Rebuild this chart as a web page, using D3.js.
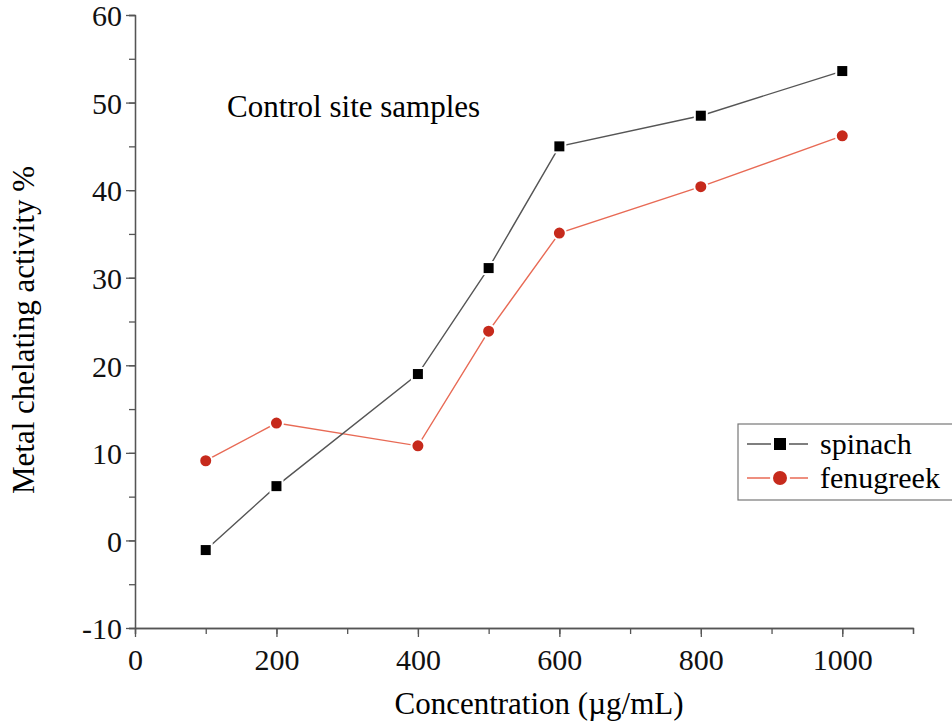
<html>
<head>
  <meta charset="utf-8">
  <script src="https://d3js.org/d3.v7.min.js"></script>
  <style>
    body{ margin:0; background:#fff; }
    svg{ display:block; font-family:"Liberation Serif","Times New Roman",serif; }
  </style>
</head>
<body>
  <script type="text/javascript">

    var concentrations = [100, 200, 400, 500, 600, 800, 1000];
    var spinach = [-1.1, 6.2, 19.0, 31.1, 45.0, 48.5, 53.6];
    var fenugreek = [9.1, 13.4, 10.8, 23.9, 35.1, 40.4, 46.2];
    var xTicks = [0, 200, 400, 600, 800, 1000];
    var yTicks = [-10, 0, 10, 20, 30, 40, 50, 60];

    var screen = {width: 952, height: 727}
    var margins = {top: 15, right: 39, bottom: 99, left: 135}
    var width = screen.width - margins.left - margins.right;
    var height = screen.height - margins.top - margins.bottom;

    var svg = d3.select("body").append("svg")
      .attr("width", screen.width)
      .attr("height", screen.height)

    var xScale = d3.scaleLinear().domain([0, 1100]).range([0, width]);
    var yScale = d3.scaleLinear().domain([-10, 60]).range([height, 0]);

    var plot = svg.append("g")
      .attr("transform", "translate(" + margins.left + "," + margins.top + ")")

    // minor ticks
    var xAxisMinor = d3.axisBottom(xScale).tickValues(d3.range(0, 1101, 100)).tickSize(6).tickFormat("")
    var yAxisMinor = d3.axisLeft(yScale).tickValues(d3.range(-10, 61, 5)).tickSize(6).tickFormat("")
    plot.append("g").attr("transform", "translate(0," + height + ")").call(xAxisMinor)
    plot.append("g").call(yAxisMinor)

    var plain = function(d){ return String(d) }
    var xAxis = d3.axisBottom(xScale).tickValues(xTicks).tickSize(9).tickPadding(9).tickSizeOuter(0).tickFormat(plain)
    var yAxis = d3.axisLeft(yScale).tickValues(yTicks).tickSize(9).tickPadding(4).tickSizeOuter(0).tickFormat(plain)

    var gx = plot.append("g").attr("transform", "translate(0," + height + ")").call(xAxis)
    var gy = plot.append("g").call(yAxis)

    svg.selectAll(".domain, .tick line").attr("stroke", "#555").attr("stroke-width", 1.3)
    svg.selectAll(".tick text")
      .attr("fill", "#111")
      .style("font-size", "30px")
      .style("font-family", "Liberation Serif, serif")
    gy.selectAll(".tick text").attr("dy", "0.36em")
    gx.selectAll(".tick text").attr("dy", "0.8em")

    var line = d3.line()
      .x(function(d){ return xScale(d[0]) })
      .y(function(d){ return yScale(d[1]) })

    var spinachPts = concentrations.map(function(c, i){ return [c, spinach[i]] })
    var fenuPts = concentrations.map(function(c, i){ return [c, fenugreek[i]] })

    plot.append("path").datum(fenuPts)
      .attr("d", line).attr("fill", "none").attr("stroke", "#e86a55").attr("stroke-width", 1.4)
    plot.append("path").datum(spinachPts)
      .attr("d", line).attr("fill", "none").attr("stroke", "#555").attr("stroke-width", 1.4)

    plot.selectAll(".fenu").data(fenuPts).enter().append("circle")
      .attr("cx", function(d){ return xScale(d[0]) })
      .attr("cy", function(d){ return yScale(d[1]) })
      .attr("r", 6.5)
      .attr("fill", "#c62a1c").attr("stroke", "#fff").attr("stroke-width", 2)

    plot.selectAll(".spin").data(spinachPts).enter().append("rect")
      .attr("x", function(d){ return xScale(d[0]) - 6 })
      .attr("y", function(d){ return yScale(d[1]) - 6 })
      .attr("width", 12).attr("height", 12)
      .attr("fill", "#000").attr("stroke", "#fff").attr("stroke-width", 2)

    // title
    svg.append("text")
      .attr("x", 227).attr("y", 117)
      .style("font-size", "31px")
      .text("Control site samples")

    // axis labels
    svg.append("text")
      .attr("x", 539).attr("y", 714)
      .attr("text-anchor", "middle")
      .style("font-size", "31px")
      .text("Concentration (\u00b5g/mL)")

    svg.append("text")
      .attr("transform", "translate(34,330) rotate(-90)")
      .attr("text-anchor", "middle")
      .style("font-size", "31px")
      .text("Metal chelating activity %")

    // legend
    var legend = svg.append("g").attr("transform", "translate(738,424)")
    legend.append("rect")
      .attr("x", 0).attr("y", 0).attr("width", 230).attr("height", 76)
      .attr("fill", "#fff").attr("stroke", "#777").attr("stroke-width", 1.2)

    var legendItems = [
      {name: "spinach", color: "#555", mark: "rect"},
      {name: "fenugreek", color: "#e86a55", mark: "circle"}
    ]
    var rows = legend.selectAll(".row").data(legendItems).enter().append("g")
      .attr("transform", function(d, i){ return "translate(0," + (20 + i * 34) + ")" })
    rows.append("line")
      .attr("x1", 9).attr("x2", 70).attr("y1", 0).attr("y2", 0)
      .attr("stroke", function(d){ return d.color }).attr("stroke-width", 1.4)
    rows.each(function(d){
      var g = d3.select(this)
      if (d.mark == "rect") {
        g.append("rect").attr("x", 36).attr("y", -6).attr("width", 12).attr("height", 12)
          .attr("fill", "#000").attr("stroke", "#fff").attr("stroke-width", 6)
          .attr("paint-order", "stroke")
      } else {
        g.append("circle").attr("cx", 42).attr("cy", 0).attr("r", 7)
          .attr("fill", "#c62a1c").attr("stroke", "#fff").attr("stroke-width", 6)
          .attr("paint-order", "stroke")
      }
    })
    rows.append("text")
      .attr("x", 82).attr("y", 10)
      .style("font-size", "30px")
      .text(function(d){ return d.name })

  </script>
</body>
</html>
